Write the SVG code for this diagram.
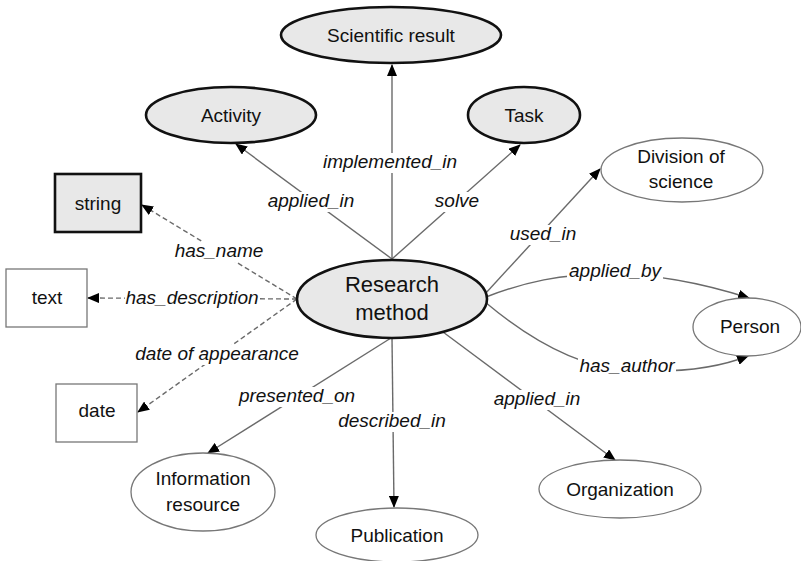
<svg xmlns="http://www.w3.org/2000/svg" width="801" height="561" viewBox="0 0 801 561">
<style>
.bg{fill:#fff}
.core{fill:#e8e8e8;stroke:#111;stroke-width:2.6}
.plain{fill:#fff;stroke:#777;stroke-width:1.3}
.lbl{font-family:"Liberation Sans",Arial,sans-serif;font-size:19px;fill:#111;text-anchor:middle}
.big{font-size:22px}
.edge{fill:none;stroke:#6a6a6a;stroke-width:1.4}
.dash{stroke-dasharray:5 3}
.gap{fill:#fff}
.el{font-family:"Liberation Sans",Arial,sans-serif;font-size:19px;font-style:italic;fill:#111;text-anchor:middle}
</style>
<defs>
<marker id="arr" markerUnits="userSpaceOnUse" markerWidth="12" markerHeight="10" refX="11" refY="5" orient="auto">
<path d="M0,0 L12,5 L0,10 Z" fill="#000"/>
</marker>
</defs>
<rect class="bg" width="801" height="561"/>
<g id="connectors">
<line class="edge" x1="392" y1="259" x2="392" y2="65" marker-end="url(#arr)"/>
<line class="edge" x1="392" y1="259" x2="236" y2="144" marker-end="url(#arr)"/>
<line class="edge" x1="392" y1="259" x2="520" y2="145" marker-end="url(#arr)"/>
<line class="edge" x1="485" y1="294" x2="600" y2="169" marker-end="url(#arr)"/>
<path class="edge" d="M486,297 C525,282 560,274 610,274 C660,274 705,284 749,298" marker-end="url(#arr)"/>
<path class="edge" d="M485,302 Q560,365 625,370 Q700,375 748,356" marker-end="url(#arr)"/>
<line class="edge" x1="443" y1="332" x2="615" y2="460" marker-end="url(#arr)"/>
<line class="edge" x1="392" y1="338" x2="394" y2="507" marker-end="url(#arr)"/>
<line class="edge" x1="391" y1="338" x2="208" y2="453" marker-end="url(#arr)"/>
<line class="edge dash" x1="297" y1="299" x2="142" y2="205" marker-end="url(#arr)"/>
<line class="edge dash" x1="297" y1="299" x2="88" y2="298" marker-end="url(#arr)"/>
<line class="edge dash" x1="297" y1="299" x2="138" y2="412" marker-end="url(#arr)"/>
<rect class="gap" x="321" y="153" width="138" height="20"/>
<rect class="gap" x="265" y="192" width="92" height="20"/>
<rect class="gap" x="433" y="192" width="49" height="20"/>
<rect class="gap" x="507" y="225" width="72" height="20"/>
<rect class="gap" x="567" y="262" width="96" height="20"/>
<rect class="gap" x="578" y="357" width="98" height="20"/>
<rect class="gap" x="491" y="390" width="92" height="20"/>
<rect class="gap" x="337" y="412" width="110" height="20"/>
<rect class="gap" x="238" y="387" width="119" height="20"/>
<rect class="gap" x="174" y="242" width="90" height="20"/>
<rect class="gap" x="125" y="289" width="135" height="20"/>
<rect class="gap" x="134" y="345" width="166" height="20"/>
<text class="el" x="390" y="168">implemented_in</text>
<text class="el" x="311" y="207">applied_in</text>
<text class="el" x="457" y="207">solve</text>
<text class="el" x="543" y="240">used_in</text>
<text class="el" x="615" y="277">applied_by</text>
<text class="el" x="627" y="372">has_author</text>
<text class="el" x="537" y="405">applied_in</text>
<text class="el" x="392" y="427">described_in</text>
<text class="el" x="297" y="402">presented_on</text>
<text class="el" x="219" y="257">has_name</text>
<text class="el" x="192" y="304">has_description</text>
<text class="el" x="217" y="360">date of appearance</text>
</g>
<g id="research-method">
<ellipse class="core" cx="392" cy="299" rx="95" ry="39"/>
<text class="lbl big" x="392" y="292">Research</text>
<text class="lbl big" x="392" y="320">method</text>
</g>
<g id="scientific-result">
<ellipse class="core" cx="391" cy="35" rx="110" ry="28"/>
<text class="lbl" x="391" y="42">Scientific result</text>
</g>
<g id="activity">
<ellipse class="core" cx="231" cy="115" rx="85" ry="28"/>
<text class="lbl" x="231" y="122">Activity</text>
</g>
<g id="task">
<ellipse class="core" cx="524" cy="115" rx="56" ry="28"/>
<text class="lbl" x="524" y="122">Task</text>
</g>
<g id="string">
<rect class="core" x="55" y="174" width="86" height="58"/>
<text class="lbl" x="98" y="210">string</text>
</g>
<g id="text">
<rect class="plain" x="6" y="269" width="81" height="58"/>
<text class="lbl" x="47" y="304">text</text>
</g>
<g id="date">
<rect class="plain" x="56" y="384" width="81" height="58"/>
<text class="lbl" x="97" y="417">date</text>
</g>
<g id="division-of-science">
<ellipse class="plain" cx="682" cy="170" rx="81" ry="32"/>
<text class="lbl" x="681" y="163">Division of</text>
<text class="lbl" x="681" y="188">science</text>
</g>
<g id="person">
<ellipse class="plain" cx="747" cy="327" rx="54" ry="29"/>
<text class="lbl" x="750" y="333">Person</text>
</g>
<g id="information-resource">
<ellipse class="plain" cx="203" cy="492" rx="72" ry="39"/>
<text class="lbl" x="203" y="485">Information</text>
<text class="lbl" x="203" y="511">resource</text>
</g>
<g id="publication">
<ellipse class="plain" cx="397" cy="535" rx="81" ry="27"/>
<text class="lbl" x="397" y="542">Publication</text>
</g>
<g id="organization">
<ellipse class="plain" cx="620" cy="489" rx="81" ry="29"/>
<text class="lbl" x="620" y="496">Organization</text>
</g>
</svg>
